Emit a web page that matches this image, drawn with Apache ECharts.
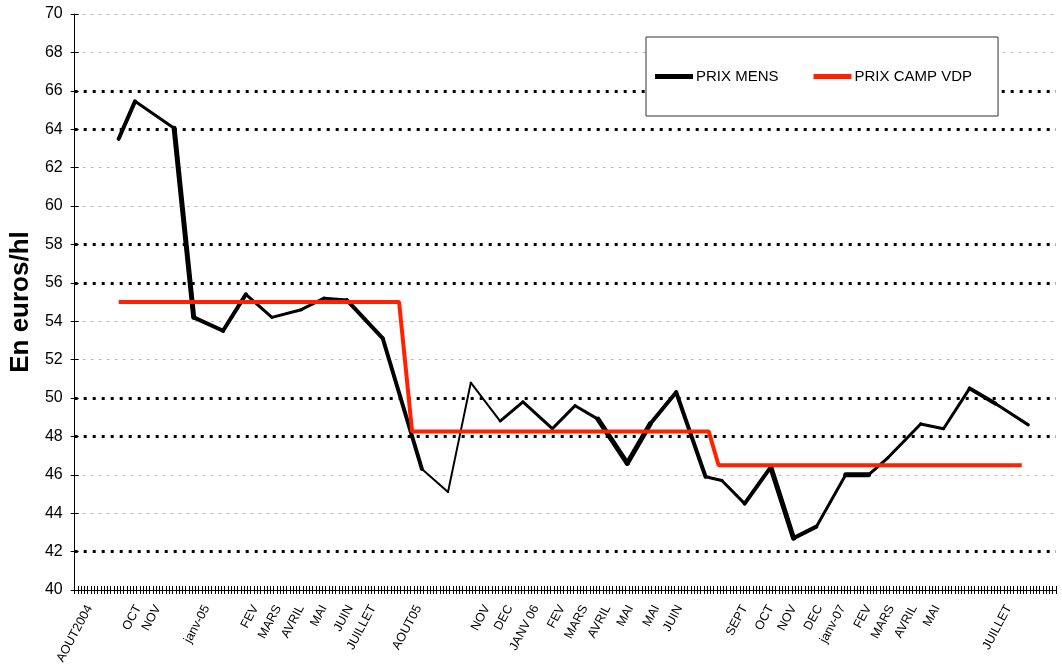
<!DOCTYPE html>
<html>
<head>
<meta charset="utf-8">
<script src="https://cdn.jsdelivr.net/npm/echarts@6/dist/echarts.min.js"></script>
<style>
  html, body { margin: 0; padding: 0; background: #fff; }
  #main { width: 1062px; height: 670px; }
</style>
</head>
<body>
<div id="main"></div>
<script>
// nombre de cases sur l'axe des dates (une graduation par case)
var nbSlots = 301;

// libelles des mois et leur case
var monthLabels = ['AOUT2004', 'OCT', 'NOV', 'janv-05', 'FEV', 'MARS', 'AVRIL', 'MAI', 'JUIN', 'JUILLET',
  'AOUT05', 'NOV', 'DEC', 'JANV 06', 'FEV', 'MARS', 'AVRIL', 'MAI', 'MAI', 'JUIN',
  'SEPT', 'OCT', 'NOV', 'DEC', 'janv-07', 'FEV', 'MARS', 'AVRIL', 'MAI', 'JUILLET'];
var labelSlots = [4, 19, 25, 40, 55, 62, 69, 76, 84, 91,
  105, 126, 133, 141, 149, 156, 163, 170, 178, 185,
  205, 213, 220, 228, 235, 243, 250, 257, 264, 286];

// prix mensuel
var mensSlots = [13, 18, 30, 36, 45, 52, 60, 69, 76, 83, 94, 106, 114, 121, 130, 137, 146, 153,
  160, 169, 176, 184, 193, 198, 205, 213, 220, 227, 236, 243, 249, 259, 266, 274, 282, 292];
var prixMens = [63.5, 65.45, 64.05, 54.2, 53.5, 55.4, 54.2, 54.6, 55.2, 55.1, 53.1, 46.3, 45.1, 50.8, 48.8, 49.8, 48.4, 49.6,
  48.9, 46.6, 48.65, 50.3, 45.9, 45.7, 44.5, 46.4, 42.7, 43.3, 46.0, 46.0, 46.9, 48.65, 48.4, 50.5, 49.7, 48.6];

// prix campagne VDP
var campSlots = [13, 99, 103, 194, 197, 290];
var prixCamp = [55, 55, 48.25, 48.25, 46.5, 46.5];

// epaisseur du trait noir, segment par segment (rendu inegal d'Excel)
var segWidths = [4, 3, 5, 4, 4, 3, 3, 3, 3, 4, 4, 2, 2, 2, 3, 3, 3, 3,
  5, 5, 4, 4, 3, 3, 4, 5, 4, 3, 5, 3, 3, 3, 3, 4, 3];

// quadrillage : 42, 48-50, 56-58, 64-66 en pointilles noirs ; les autres en tirets gris
var dotLevels = [42, 48, 50, 56, 58, 64, 66];
var dotColors = [];
var dashColors = [];
for (var v = 40; v <= 70; v += 2) {
  var noir = dotLevels.indexOf(v) >= 0;
  dotColors.push(noir ? '#000' : 'transparent');
  dashColors.push(!noir && v !== 40 ? '#bbb' : 'transparent');
}

var cats = [];
for (var i = 0; i < nbSlots; i++) cats.push('');
for (var i = 0; i < labelSlots.length; i++) cats[labelSlots[i]] = monthLabels[i];

var series = [];
for (var i = 0; i < mensSlots.length - 1; i++) {
  series.push({
    name: 'PRIX MENS',
    type: 'line',
    data: [[mensSlots[i], prixMens[i]], [mensSlots[i + 1], prixMens[i + 1]]],
    symbol: 'none',
    lineStyle: { color: '#000', width: segWidths[i], cap: 'round', join: 'round' },
    itemStyle: { color: '#000' }
  });
}
var campData = [];
for (var i = 0; i < campSlots.length; i++) campData.push([campSlots[i], prixCamp[i]]);
series.push({
  name: 'PRIX CAMP VDP',
  type: 'line',
  data: campData,
  symbol: 'none',
  lineStyle: { color: '#ff2200', width: 4 },
  itemStyle: { color: '#ff2200' }
});

var myChart = echarts.init(document.getElementById('main'));
myChart.setOption({
  animation: false,
  backgroundColor: '#fff',
  textStyle: { fontFamily: 'Liberation Sans, Arial, sans-serif', color: '#000' },
  grid: { left: 72, right: 6, top: 14, bottom: 80 },
  legend: {
    left: 646, top: 37,
    orient: 'horizontal',
    padding: [32, 26, 32, 9],
    itemGap: 35,
    itemWidth: 38, itemHeight: 5,
    icon: 'rect',
    borderColor: '#333', borderWidth: 1,
    backgroundColor: '#fff',
    textStyle: { fontSize: 15, color: '#000', padding: [0, 0, 0, -2] },
    data: ['PRIX MENS', 'PRIX CAMP VDP']
  },
  xAxis: [{
    type: 'category',
    position: 'bottom',
    data: cats,
    boundaryGap: true,
    axisLine: { show: true, lineStyle: { color: '#000', width: 1 } },
    axisTick: { show: true, interval: 0, length: 4, lineStyle: { color: '#000', width: 1 } },
    axisLabel: { interval: 0, rotate: 62, fontSize: 12.5, color: '#000', margin: 16 },
    splitLine: { show: false }
  }, {
    type: 'category',
    position: 'bottom',
    data: cats,
    boundaryGap: true,
    axisLine: { show: false },
    axisTick: { show: true, interval: 0, inside: true, length: 4, lineStyle: { color: '#000', width: 1 } },
    axisLabel: { show: false },
    splitLine: { show: false }
  }],
  yAxis: [{
    type: 'value',
    position: 'left',
    min: 40, max: 70, interval: 2,
    name: 'En euros/hl',
    nameLocation: 'middle',
    nameGap: 34,
    nameTextStyle: { fontSize: 26, fontWeight: 'bold', color: '#000' },
    axisLine: { show: true, lineStyle: { color: '#000', width: 1 } },
    axisTick: { show: true, length: 4, lineStyle: { color: '#000' } },
    axisLabel: { fontSize: 16, color: '#000', margin: 12 },
    splitLine: {
      show: true,
      lineStyle: { color: dotColors, width: 3, type: [3, 6] }
    }
  }, {
    type: 'value',
    position: 'left',
    min: 40, max: 70, interval: 2,
    axisLine: { show: false },
    axisTick: { show: true, inside: true, length: 4, lineStyle: { color: '#000' } },
    axisLabel: { show: false },
    splitLine: {
      show: true,
      lineStyle: { color: dashColors, width: 1, type: [3, 5] }
    }
  }],
  series: series
});
</script>
</body>
</html>
